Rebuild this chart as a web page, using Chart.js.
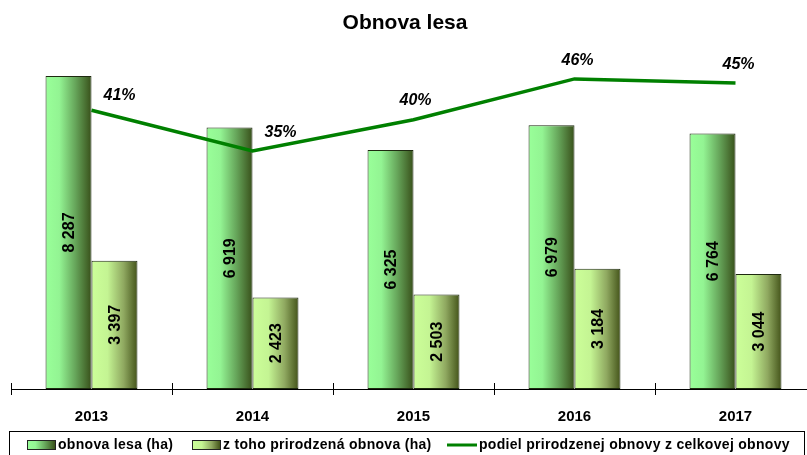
<!DOCTYPE html>
<html>
<head>
<meta charset="utf-8">
<script src="https://cdn.jsdelivr.net/npm/chart.js@4/dist/chart.umd.min.js"></script>
<style>
  html, body { margin: 0; padding: 0; background: #fff; overflow: hidden; }
  #wrap { width: 807px; height: 455px; overflow: hidden; }
</style>
</head>
<body>
<div id="wrap"><canvas id="obnova" width="830" height="455"></canvas></div>
<script>
const years = ['2013', '2014', '2015', '2016', '2017'];
const obnovaLesa = [8287, 6919, 6325, 6979, 6764];
const prirodzena = [3397, 2423, 2503, 3184, 3044];
const podiel = [41.0, 35.0, 39.6, 45.6, 45.0];
const seriesNames = ['obnova lesa (ha)', 'z toho prirodzená obnova (ha)', 'podiel prirodzenej obnovy z celkovej obnovy'];

const FONT = "'Liberation Sans', Arial, sans-serif";
const catPct = 0.571;
const stops1 = [[0, '#99ff99'], [0.3, '#93f493'], [0.65, '#66a55a'], [1, '#38501a']];
const stops2 = [[0, '#ccff99'], [0.35, '#c4f493'], [0.7, '#8fa860'], [1, '#44541a']];
// label offsets for the % texts (dx, dy from the point)
const pctOffsets = [[28, -15], [28, -18], [2, -19], [3, -18], [3, -18]];

function fmt(v) {
    return String(v).replace(/\B(?=(\d{3})+(?!\d))/g, ' ');
}

function grad(c, left, w, stops) {
    const g = c.createLinearGradient(left, 0, left + w, 0);
    stops.forEach(s => g.addColorStop(s[0], s[1]));
    return g;
}

function barFill(stops) {
    return function (ctx) {
        const chart = ctx.chart;
        const xs = chart.scales && chart.scales.x;
        if (ctx.type !== 'data' || !xs || !chart.chartArea) return stops[0][1];
        const cw = xs.width / years.length;
        const bw = cw * catPct / 2;
        const c = xs.getPixelForValue(ctx.dataIndex);
        const left = ctx.datasetIndex === 0 ? c - bw : c;
        return grad(chart.ctx, left, bw, stops);
    };
}

const extras = {
    id: 'extras',
    afterDraw(chart) {
        const c = chart.ctx;
        const xs = chart.scales.x;
        c.save();
        // title
        c.fillStyle = '#000';
        c.font = 'bold 21px ' + FONT;
        c.textAlign = 'center';
        c.textBaseline = 'alphabetic';
        c.fillText('Obnova lesa', 405, 29);

        // tick marks crossing the axis
        const cw = xs.width / years.length;
        c.strokeStyle = '#000';
        c.lineWidth = 1;
        for (let i = 0; i <= years.length; i++) {
            const x = Math.round(xs.left + i * cw) + 0.5;
            c.beginPath();
            c.moveTo(x, xs.top - 6);
            c.lineTo(x, xs.top + 6);
            c.stroke();
        }

        // bar value labels, rotated
        c.font = 'bold 16px ' + FONT;
        c.textAlign = 'center';
        c.textBaseline = 'middle';
        [0, 1].forEach(di => {
            const meta = chart.getDatasetMeta(di);
            meta.data.forEach((bar, i) => {
                const val = chart.data.datasets[di].data[i];
                const cy = (bar.y + bar.base) / 2;
                c.save();
                c.translate(bar.x + 1, cy);
                c.rotate(-Math.PI / 2);
                c.fillText(fmt(val), 0, 0);
                c.restore();
            });
        });

        // percent labels
        c.font = 'italic bold 16px ' + FONT;
        const lm = chart.getDatasetMeta(2);
        lm.data.forEach((pt, i) => {
            const o = pctOffsets[i];
            c.fillText(Math.round(podiel[i]) + '%', pt.x + o[0], pt.y + o[1]);
        });

        // legend
        c.strokeStyle = '#000';
        c.strokeRect(9.5, 431.5, 795, 40);
        c.font = 'bold 14px ' + FONT;
        c.letterSpacing = '0.3px';
        c.textAlign = 'left';
        c.textBaseline = 'middle';
        const ly = 445;
        c.fillStyle = grad(c, 27, 28, stops1);
        c.fillRect(27, 440, 28, 9);
        c.strokeStyle = '#222';
        c.strokeRect(27.5, 440.5, 28, 9);
        c.fillStyle = '#000';
        c.fillText(seriesNames[0], 58, ly);
        c.fillStyle = grad(c, 192, 28, stops2);
        c.fillRect(192, 440, 28, 9);
        c.strokeRect(192.5, 440.5, 28, 9);
        c.fillStyle = '#000';
        c.fillText(seriesNames[1], 223, ly);
        c.strokeStyle = '#008000';
        c.lineWidth = 3;
        c.beginPath();
        c.moveTo(447, ly);
        c.lineTo(477, ly);
        c.stroke();
        c.fillText(seriesNames[2], 479, ly);
        c.restore();
    }
};

const chart = new Chart(document.getElementById('obnova'), {
    type: 'bar',
    data: {
        labels: years,
        datasets: [
            {
                label: seriesNames[0],
                data: obnovaLesa,
                backgroundColor: barFill(stops1),
                borderColor: '#1e2a10',
                borderWidth: 1,
                borderSkipped: false,
                categoryPercentage: catPct,
                barPercentage: 1,
                order: 1
            },
            {
                label: seriesNames[1],
                data: prirodzena,
                backgroundColor: barFill(stops2),
                borderColor: '#1e2a10',
                borderWidth: 1,
                borderSkipped: false,
                categoryPercentage: catPct,
                barPercentage: 1,
                order: 1
            },
            {
                type: 'line',
                label: seriesNames[2],
                data: podiel,
                yAxisID: 'y2',
                borderColor: '#008000',
                borderWidth: 3.5,
                pointRadius: 0,
                tension: 0,
                order: 0
            }
        ]
    },
    options: {
        responsive: false,
        animation: false,
        devicePixelRatio: 1,
        layout: { padding: { left: 11, right: 14, top: 49, bottom: 34 } },
        plugins: {
            legend: { display: false },
            title: { display: false },
            tooltip: { enabled: false }
        },
        scales: {
            x: {
                grid: { display: false },
                border: { display: true, color: '#000', width: 1 },
                ticks: {
                    color: '#000',
                    font: { family: FONT, size: 15, weight: 'bold' },
                    padding: 11,
                    maxRotation: 0
                },
                afterFit: s => { s.height = 32; }
            },
            y: { display: false, min: 0, max: 9000 },
            y2: { display: false, min: 0, max: 50, position: 'right' }
        }
    },
    plugins: [extras]
});
</script>
</body>
</html>
